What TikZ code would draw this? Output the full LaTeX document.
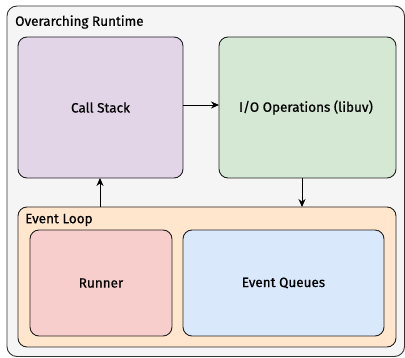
\documentclass[tikz,border=0pt]{standalone}
\usepackage{fontspec}
\setmainfont{Fira Sans}[FakeBold=0.6,UprightFont=*,BoldFont=*]
\usetikzlibrary{arrows.meta}
\definecolor{outerfill}{HTML}{F5F5F5}
\definecolor{purplef}{HTML}{E1D5E7}
\definecolor{greenf}{HTML}{D5E8D4}
\definecolor{orangef}{HTML}{FFE6CC}
\definecolor{redf}{HTML}{F8CECC}
\definecolor{bluef}{HTML}{DAE8FC}
\definecolor{boxdraw}{HTML}{222222}
\begin{document}
\begin{tikzpicture}[x=1pt,y=-1pt,
  box/.style={draw=boxdraw,line width=0.9pt,rounded corners=9pt},
  lbl/.style={font=\fontsize{13.5}{15}\selectfont\bfseries,text=black},
  conn/.style={-{Stealth[length=8pt,width=7pt]},line width=0.9pt,draw=black}]
\useasboundingbox (0,0) rectangle (405,358);
\fill[white] (0,0) rectangle (405,358);
\draw[fill=outerfill,draw=black!80,line width=0.9pt,rounded corners=10pt] (7,6) rectangle (404.5,356.5);
\node[lbl,anchor=west,inner sep=0pt] (rt) at (15,22) {Overarching Runtime};
\draw[box,fill=purplef] (18,37) rectangle (183,178);
\node[lbl] (cs) at (100.5,107.5) {Call Stack};
\coordinate (csE) at (183,105);
\coordinate (csS) at (100,178);
\draw[box,fill=greenf] (219,37) rectangle (396,178);
\node[lbl] (io) at (306,107.5) {I/O Operations (libuv)};
\coordinate (ioW) at (219,105);
\coordinate (ioS) at (302,178);
\draw[box,fill=orangef] (18,207) rectangle (396,347);
\node[lbl,anchor=west,inner sep=0pt] (el) at (25,220) {Event Loop};
\coordinate (elN1) at (100,207);
\coordinate (elN2) at (302,207);
\draw[box,fill=redf] (30,230) rectangle (172,336);
\node[lbl] (rn) at (101,283) {Runner};
\draw[box,fill=bluef] (183,230) rectangle (384,336);
\node[lbl] (eq) at (283.5,283) {Event Queues};
\draw[conn] (csE) -- (ioW);
\draw[conn] (ioS) -- (elN2);
\draw[conn] (elN1) -- (csS);
\end{tikzpicture}
\end{document}
